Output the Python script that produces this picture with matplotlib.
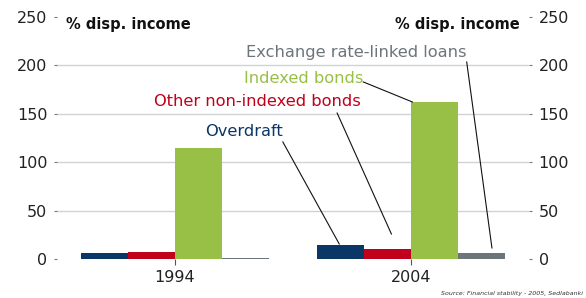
import matplotlib
matplotlib.use("Agg")
import matplotlib.pyplot as plt
import numpy as np

years = ["1994", "2004"]
series = ["Overdraft", "Other non-indexed bonds", "Indexed bonds", "Exchange rate-linked loans"]
overdraft = [6, 14]
other_bonds = [7.5, 10]
indexed_bonds = [115, 162]
fx_loans = [1, 6.5]
values = [overdraft, other_bonds, indexed_bonds, fx_loans]
colors = ["#0b3767", "#c0001d", "#98c046", "#6c7579"]
yticks = [0, 50, 100, 150, 200, 250]

fig = plt.figure(figsize=(5.86, 2.98), dpi=100)
ax = fig.add_axes([57/586, 1-259/298, (529-57)/586, (259-17)/298])

x = np.arange(len(years))
w = 0.2
for i, (vals, c) in enumerate(zip(values, colors)):
    ax.bar(x + (i - 1.5) * w, vals, width=w, color=c, edgecolor="none", zorder=3)

ax.set_xlim(-0.5, 1.5)
ax.set_ylim(0, 250)
for g in [50, 100, 150, 200]:
    ax.axhline(g, color="#cfd3d6", lw=1.0, zorder=1)

for s in ax.spines.values():
    s.set_visible(False)
ax.set_yticks(yticks)
ax.set_yticklabels([str(t) for t in yticks])
ax.tick_params(axis="y", left=True, right=True, labelleft=True, labelright=True,
               length=2, width=0.8, color="#777777", labelsize=11.5, labelcolor="#222222", pad=5)
ax.set_xticks(x)
ax.set_xticklabels(years)
ax.tick_params(axis="x", length=4, width=0.8, color="#555555", labelsize=11.5, labelcolor="#222222", pad=4)

ax.text(66/586, 1-24/298, "% disp. income", transform=fig.transFigure, fontsize=10.5,
        fontweight="bold", ha="left", va="center", color="#111111")
ax.text(520/586, 1-24/298, "% disp. income", transform=fig.transFigure, fontsize=10.5,
        fontweight="bold", ha="right", va="center", color="#111111")

labels = [
    # text, x_right, y_center, line start, line end
    ("Overdraft", 0.457, 132.2, (0.457, 120.9), (0.696, 15.5)),
    ("Other non-indexed bonds", 0.785, 163.2, (0.687, 150.8), (0.917, 25.8)),
    ("Indexed bonds", 0.798, 186.0, (0.798, 182.9), (1.006, 162.2)),
    ("Exchange rate-linked loans", 1.236, 213.8, (1.236, 203.5), (1.343, 11.4)),
]
for (txt, tx, ty, p0, p1), c in zip(labels, colors):
    ax.text(tx, ty, txt, color=c, fontsize=11.7, fontweight="normal", ha="right", va="center", zorder=5)
    ax.plot([p0[0], p1[0]], [p0[1], p1[1]], color="#111111", lw=0.8, zorder=4, clip_on=False)

fig.text(583/586, 1-294/298, "Source: Financial stability - 2005, Sedlabanki", fontsize=4.5,
         style="italic", ha="right", va="center", color="#333333")

fig.savefig("out.png", dpi=100)
